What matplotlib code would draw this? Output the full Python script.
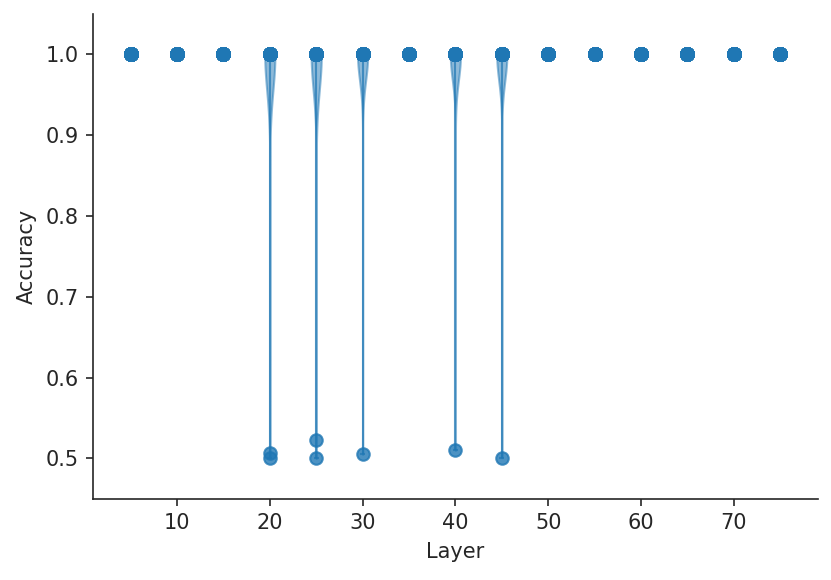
import numpy as np
import matplotlib
matplotlib.use("Agg")
import matplotlib.pyplot as plt
import seaborn as sns

# accuracy per layer: runs that reached 1.0 and the few that failed (~0.5)
layers = [5, 10, 15, 20, 25, 30, 35, 40, 45, 50, 55, 60, 65, 70, 75]
n_perfect = [50, 50, 50, 48, 48, 49, 50, 49, 49, 50, 50, 50, 50, 50, 50]
failed = {
    20: [0.507, 0.501],
    25: [0.523, 0.500],
    30: [0.505],
    40: [0.510],
    45: [0.501],
}

sns.set_style("ticks")

fig, ax = plt.subplots(figsize=(8.31 / 1.5, 5.80 / 1.5), dpi=150)
fig.subplots_adjust(left=0.112, right=0.984, top=0.976, bottom=0.140)

color = "#1f77b4"

# violins only where the runs differ
vpos = []
vdata = []
for lay, npf in zip(layers, n_perfect):
    accs = [1.0] * npf + failed.get(lay, [])
    if lay in failed:
        vpos.append(lay)
        vdata.append(accs)

parts = ax.violinplot(vdata, positions=vpos, widths=1.1, showextrema=True)
for b in parts["bodies"]:
    b.set_facecolor(color)
    b.set_edgecolor(color)
    b.set_alpha(0.5)
for k in ("cmins", "cmaxes", "cbars"):
    parts[k].set_color(color)
    parts[k].set_alpha(0.7)
    parts[k].set_linewidth(1.0)

for lay, npf in zip(layers, n_perfect):
    accs = [1.0] * npf + failed.get(lay, [])
    ax.scatter([lay] * len(accs), accs, s=36, color=color, alpha=0.8,
               zorder=3)

ax.set_xlim(0.95, 79.05)
ax.set_ylim(0.45, 1.05)
ax.set_yticks([0.5, 0.6, 0.7, 0.8, 0.9, 1.0])
ax.set_xticks([10, 20, 30, 40, 50, 60, 70])
ax.set_xlabel("Layer")
ax.set_ylabel("Accuracy")
sns.despine(ax=ax)

fig.savefig("out.png", dpi=150)
